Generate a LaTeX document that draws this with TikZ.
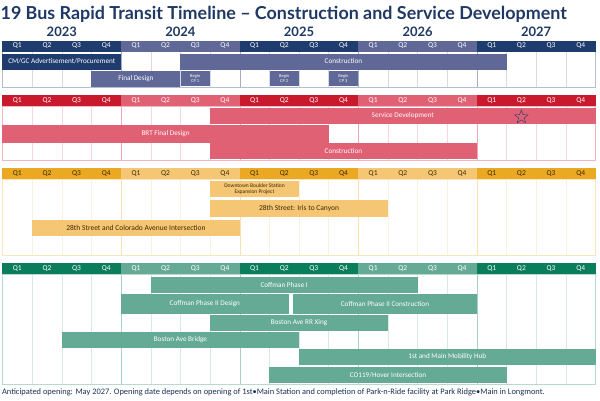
\documentclass[tikz,border=0pt]{standalone}
\usepackage{fontspec}
\setmainfont{Carlito}
\newfontfamily\titlefont{Lato}
\usetikzlibrary{shapes.geometric}
\definecolor{titleblue}{HTML}{1F3864}
\definecolor{blueD}{HTML}{1F3C6E}
\definecolor{blueL}{HTML}{5F6896}
\definecolor{redD}{HTML}{C8192D}
\definecolor{redL}{HTML}{E06074}
\definecolor{ambD}{HTML}{EAA823}
\definecolor{ambL}{HTML}{F5C673}
\definecolor{ambT}{HTML}{3A2A05}
\definecolor{grnD}{HTML}{0A7D5A}
\definecolor{grnL}{HTML}{64AA94}

\begin{document}
\begin{tikzpicture}[
  x=29.65pt,
  y=-1pt,
  qcell/.style 2 args={
    fill=#1,
    text=#2,
    minimum width=29.65pt,
    minimum height=11pt,
    inner sep=0pt,
    outer sep=0pt,
    font=\fontsize{7.5}{8}\selectfont},
  gbar/.style 2 args={
    fill=#1,
    minimum width={(#2)*29.65pt},
    minimum height=16pt,
    inner sep=0pt,
    outer sep=0pt,
    anchor=north west,
    align=center,
    text=white,
    font=\fontsize{7.2}{8}\selectfont},
  year/.style={font=\titlefont\bfseries\fontsize{13}{14}\selectfont,text=titleblue}]
  \useasboundingbox (-0.0843,0) rectangle (20.152,400);
  % title and years
  \node[anchor=west,inner sep=0pt,text=titleblue,font=\titlefont\bfseries\fontsize{17.9}{19}\selectfont] (title) at (-0.07,14) {19 Bus Rapid Transit Timeline \textendash{} Construction and Service Development};
  \foreach \yr [count=\i from 0] in {2023,...,2027}
    \node[year] (y\yr) at (4*\i+2, 32) {\yr};
  % draw the four bands: grid body and quarter header
  \foreach \band/\ytop/\ybot/\cdark/\clight/\ctext in {b/40.5/87/blueD/blueL/white, r/95/160/redD/redL/white, a/168/255/ambD/ambL/ambT, g/263/384/grnD/grnL/white} {
    \foreach \q in {1,...,19}
      \draw[draw=\clight!25] (\q,\ytop+11) -- (\q,\ybot);
    \foreach \q in {4,8,12,16}
      \draw[draw=\clight!55] (\q,\ytop+11) -- (\q,\ybot);
    \draw[draw=\clight!45] (0,\ytop+11) rectangle (20,\ybot);
    \foreach \q in {0,...,19} {
      \pgfmathtruncatemacro{\yi}{div(\q,4)}
      \pgfmathtruncatemacro{\qn}{mod(\q,4)+1}
      \ifodd\yi \def\cc{\clight}\else \def\cc{\cdark}\fi
      \node[qcell={\cc}{\ctext}] (\band h\q) at (\q+0.5,\ytop+5.5) {Q\qn};
    }
  }
  % blue band: procurement, design and construction
  \node[gbar={blueD}{4}] (cmgc) at (0,53.5) {CM/GC Advertisement/Procurement};
  \node[gbar={blueL}{11}] (bcons) at (6,53.5) {Construction};
  \node[gbar={blueL}{3}] (bdesign) at (3,70.5) {Final Design};
  \foreach \s [count=\i] in {6,9,11}
    \node[gbar={blueL}{0.97},minimum height=15.5pt,font=\fontsize{4.5}{5}\selectfont] (cp\i) at (\s+0.015,70.5) {Begin\\CP \i};
  % red band: BRT design and service
  \node[gbar={redL}{13}] (service) at (7,108) {Service Development};
  \node[gbar={redL}{11},minimum height=17.5pt] (brt) at (0,125.2) {BRT Final Design};
  \node[gbar={redL}{9}] (rcons) at (7,143.3) {Construction};
  \node[star,star points=5,star point ratio=2.4,draw=blueD,minimum size=14pt,inner sep=0pt] (opening) at (17.5,117) {};
  % amber band: Boulder projects
  \node[gbar={ambL}{3},minimum height=16.5pt,text=ambT,font=\fontsize{5.5}{6}\selectfont] (downtown) at (7,180.5) {Downtown Boulder Station\\Expansion Project};
  \node[gbar={ambL}{6},minimum height=16.5pt,text=ambT,font=\fontsize{7.5}{8}\selectfont] (iris) at (7,200) {28th Street: Iris to Canyon};
  \node[gbar={ambL}{7},minimum height=16.5pt,text=ambT,font=\fontsize{7.5}{8}\selectfont] (colorado) at (1,219.5) {28th Street and Colorado Avenue Intersection};
  % green band: Longmont projects
  \node[gbar={grnL}{9}] (coff1) at (5,277) {Coffman Phase I};
  \node[gbar={grnL}{5.65},minimum height=20pt] (coff2d) at (4,294) {Coffman Phase II Design};
  \node[gbar={grnL}{6.2},minimum height=20pt] (coff2c) at (9.8,294) {Coffman Phase II Construction};
  \node[gbar={grnL}{6}] (rrxing) at (7,315) {Boston Ave RR Xing};
  \node[gbar={grnL}{8}] (bridge) at (2,332) {Boston Ave Bridge};
  \node[gbar={grnL}{10}] (hub) at (10,349) {1st and Main Mobility Hub};
  \node[gbar={grnL}{8}] (co119) at (9,367) {CO119/Hover Intersection};
  % footnote
  \node[anchor=west,inner sep=0pt,text=titleblue!85!black,font=\fontsize{8.4}{9}\selectfont] (note) at (-0.02,392) {Anticipated opening: May 2027. Opening date depends on opening of 1st\textbullet Main Station and completion of Park-n-Ride facility at Park Ridge\textbullet Main in Longmont.};
\end{tikzpicture}
\end{document}
